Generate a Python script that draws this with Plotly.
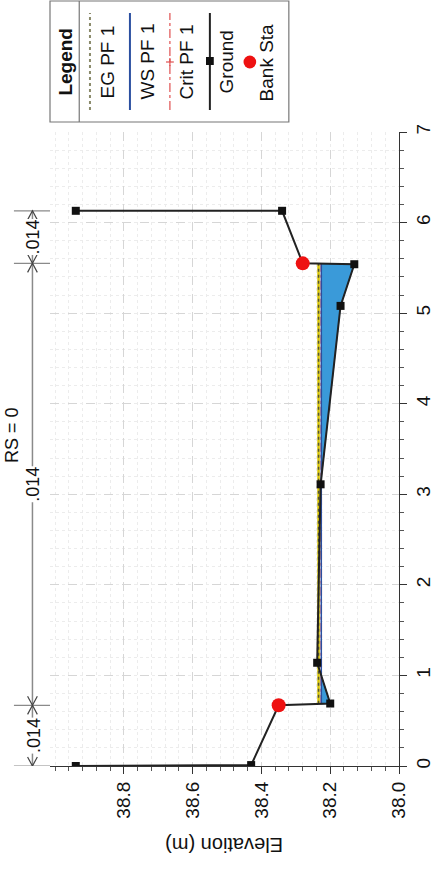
import plotly.graph_objects as go

# ---------------- data ----------------
ground_sta = [0.00, 0.01, 0.67, 0.69, 1.14, 3.11, 5.08, 5.54, 5.55, 6.13, 6.13]
ground_elev = [38.94, 38.43, 38.35, 38.20, 38.238, 38.228, 38.17, 38.13, 38.28, 38.34, 38.94]
bank_sta = [0.67, 5.55]
bank_elev = [38.35, 38.28]
ws_elev = 38.226
eg_elev = 38.234
crit_elev = 38.226
n_break_sta = [0.0, 0.67, 5.55, 6.13]
n_values = [".014", ".014", ".014"]
elev_ticks = [38.0, 38.2, 38.4, 38.6, 38.8]
elev_ticklabels = ["38.0", "38.2", "38.4", "38.6", "38.8"]
sta_ticks = [0, 1, 2, 3, 4, 5, 6, 7]
legend_labels = ["EG PF 1", "WS PF 1", "Crit PF 1", "Ground", "Bank Sta"]
axis_title = "Elevation (m)"
chart_title = "RS = 0"

# ---------------- layout geometry (pixels) ----------------
W, H = 446, 875
PL, PR, PT, PB = 50, 408, 132, 766
FONT = "Liberation Sans, Arial, sans-serif"


def px(x):
    return (x - PL) / (PR - PL)


def py(y):
    return (PB - y) / (PB - PT)


# ---------------- wetted polygons ----------------
def wet_polys(sta, elev, ws):
    polys, cur = [], None
    for i in range(len(sta) - 1):
        s0, e0, s1, e1 = sta[i], elev[i], sta[i + 1], elev[i + 1]
        if cur is not None and e0 < ws:
            cur.append((s0, e0))
        if (e0 - ws) * (e1 - ws) < 0:
            sc = s0 + (ws - e0) / (e1 - e0) * (s1 - s0)
            if e0 >= ws:
                cur = [(sc, ws)]
            else:
                cur.append((sc, ws))
                polys.append(cur)
                cur = None
    return polys


polys = wet_polys(ground_sta, ground_elev, ws_elev)
fx, fy = [], []
for p in polys:
    fx += [e for s, e in p] + [None]
    fy += [s for s, e in p] + [None]
wet_left = polys[0][0][0]
wet_right = polys[-1][-1][0]

fig = go.Figure()
fig.add_trace(go.Scatter(x=fx, y=fy, mode="lines", fill="toself",
                         fillcolor="#3a9ad9", line=dict(color="#2a6fb0", width=1),
                         hoverinfo="skip", showlegend=False))
fig.add_trace(go.Scatter(x=[crit_elev, crit_elev], y=[wet_left, wet_right], mode="lines",
                         line=dict(color="#e03030", width=1.5, dash="dashdot"), showlegend=False))
fig.add_trace(go.Scatter(x=[ws_elev, ws_elev], y=[wet_left, wet_right], mode="lines",
                         line=dict(color="#2b4fa0", width=1.5), showlegend=False))
fig.add_trace(go.Scatter(x=[eg_elev, eg_elev], y=[wet_left, wet_right], mode="lines",
                         line=dict(color="#d8c400", width=2.5), showlegend=False))
fig.add_trace(go.Scatter(x=[eg_elev, eg_elev], y=[wet_left, wet_right], mode="lines",
                         line=dict(color="#555533", width=1.5, dash="dot"), showlegend=False))
fig.add_trace(go.Scatter(x=ground_elev, y=ground_sta, mode="lines+markers",
                         line=dict(color="#222222", width=2),
                         marker=dict(symbol="square", size=8, color="#111111"),
                         showlegend=False))
fig.add_trace(go.Scatter(x=bank_elev, y=bank_sta, mode="markers",
                         marker=dict(symbol="circle", size=14, color="#ee1111"),
                         showlegend=False))

shapes, annotations = [], []


def label(x, y, text, angle, size, xref="paper", yref="paper", **kw):
    annotations.append(dict(xref=xref, yref=yref, x=x, y=y, text=text, textangle=angle,
                            showarrow=False, xanchor="center", yanchor="middle",
                            font=dict(family=FONT, size=size, color="#111111"), **kw))


# ---------------- Manning's n bar ----------------
nx = px(32)
gray = "#8a8a8a"
shapes.append(dict(type="line", xref="paper", yref="y", x0=nx, x1=nx,
                   y0=n_break_sta[0], y1=n_break_sta[-1], line=dict(color=gray, width=1.5)))
for s in n_break_sta:
    shapes.append(dict(type="line", xref="paper", yref="y", x0=px(13), x1=px(50),
                       y0=s, y1=s, line=dict(color=gray, width=1.2)))
dx = 5 / (PR - PL)
ds = 0.1
for i in range(len(n_values)):
    a, b = n_break_sta[i], n_break_sta[i + 1]
    shapes.append(dict(type="path", xref="paper", yref="y",
                       path=f"M {nx-dx},{a+ds} L {nx},{a} L {nx+dx},{a+ds}",
                       line=dict(color="#444444", width=1.2)))
    shapes.append(dict(type="path", xref="paper", yref="y",
                       path=f"M {nx-dx},{b-ds} L {nx},{b} L {nx+dx},{b-ds}",
                       line=dict(color="#444444", width=1.2)))
    label(px(33), (a + b) / 2, n_values[i], -90, 18, yref="y",
          bgcolor="white", borderpad=0)

# ---------------- legend box ----------------
shapes.append(dict(type="rect", xref="paper", yref="paper", x0=px(50), x1=px(295),
                   y0=py(122), y1=py(1), line=dict(color="#777777", width=1.2)))
shapes.append(dict(type="line", xref="paper", yref="paper", x0=px(80), x1=px(80),
                   y0=py(122), y1=py(1), line=dict(color="#777777", width=1.2)))
label(px(65), py(62), "<b>Legend</b>", -90, 19)
ly0, ly1 = py(110), py(13)
for i, lab in enumerate(legend_labels):
    sx = 91 + 41 * i
    tx = sx + 17
    label(px(tx), py(62), lab, -90, 19)
    if i == 0:
        shapes.append(dict(type="line", xref="paper", yref="paper", x0=px(sx), x1=px(sx),
                           y0=ly0, y1=ly1, line=dict(color="#8a8a6a", width=2, dash="dot")))
    elif i == 1:
        shapes.append(dict(type="line", xref="paper", yref="paper", x0=px(sx), x1=px(sx),
                           y0=ly0, y1=ly1, line=dict(color="#2b4fa0", width=2)))
    elif i == 2:
        shapes.append(dict(type="line", xref="paper", yref="paper", x0=px(sx), x1=px(sx),
                           y0=ly0, y1=ly1, line=dict(color="#e05050", width=1.2, dash="dashdot")))
        shapes.append(dict(type="line", xref="paper", yref="paper", x0=px(sx - 4), x1=px(sx + 4),
                           y0=py(62), y1=py(62), line=dict(color="#e05050", width=1.2)))
        shapes.append(dict(type="line", xref="paper", yref="paper", x0=px(sx), x1=px(sx),
                           y0=py(58), y1=py(66), line=dict(color="#e05050", width=1.2)))
    elif i == 3:
        shapes.append(dict(type="line", xref="paper", yref="paper", x0=px(sx), x1=px(sx),
                           y0=ly0, y1=ly1, line=dict(color="#222222", width=2)))
        shapes.append(dict(type="rect", xref="paper", yref="paper", x0=px(sx - 4), x1=px(sx + 4),
                           y0=py(65), y1=py(57), fillcolor="#111111", line=dict(width=0)))
    else:
        shapes.append(dict(type="circle", xref="paper", yref="paper", x0=px(sx - 6.5),
                           x1=px(sx + 6.5), y0=py(68.5), y1=py(55.5),
                           fillcolor="#ee1111", line=dict(width=0)))

# axis title (upside down) and chart title at the far left edge
label(px(229), py(845), axis_title, 180, 20)
label(px(11), py(435), chart_title, -90, 18)

fig.update_layout(
    width=W, height=H,
    margin=dict(l=PL, r=W - PR, t=PT, b=H - PB, pad=0),
    paper_bgcolor="white", plot_bgcolor="white",
    showlegend=False,
    shapes=shapes, annotations=annotations,
    font=dict(family=FONT, size=19, color="#111111"),
)
fig.update_xaxes(range=[39.015, 38.0], tickvals=elev_ticks, ticktext=elev_ticklabels,
                 tickangle=-90, ticks="outside", ticklen=7, tickcolor="#333333",
                 showline=True, linecolor="#333333", linewidth=1.2, mirror=False,
                 showgrid=True, gridcolor="#d6d6d6", griddash="dash", zeroline=False,
                 tickfont=dict(family=FONT, size=19, color="#111111"),
                 minor=dict(dtick=0.04, ticks="outside", ticklen=4, tickcolor="#555555",
                            showgrid=True, gridcolor="#ececec", griddash="dot"))
fig.update_yaxes(range=[0, 7], tickvals=sta_ticks, side="right",
                 tickangle=-90, ticks="outside", ticklen=7, tickcolor="#333333",
                 showline=True, linecolor="#333333", linewidth=1.2, mirror=False,
                 showgrid=True, gridcolor="#d6d6d6", griddash="dash", zeroline=False,
                 tickfont=dict(family=FONT, size=19, color="#111111"),
                 minor=dict(dtick=0.2, ticks="outside", ticklen=4, tickcolor="#555555",
                            showgrid=True, gridcolor="#ececec", griddash="dot"))

fig.write_html("out.html")
